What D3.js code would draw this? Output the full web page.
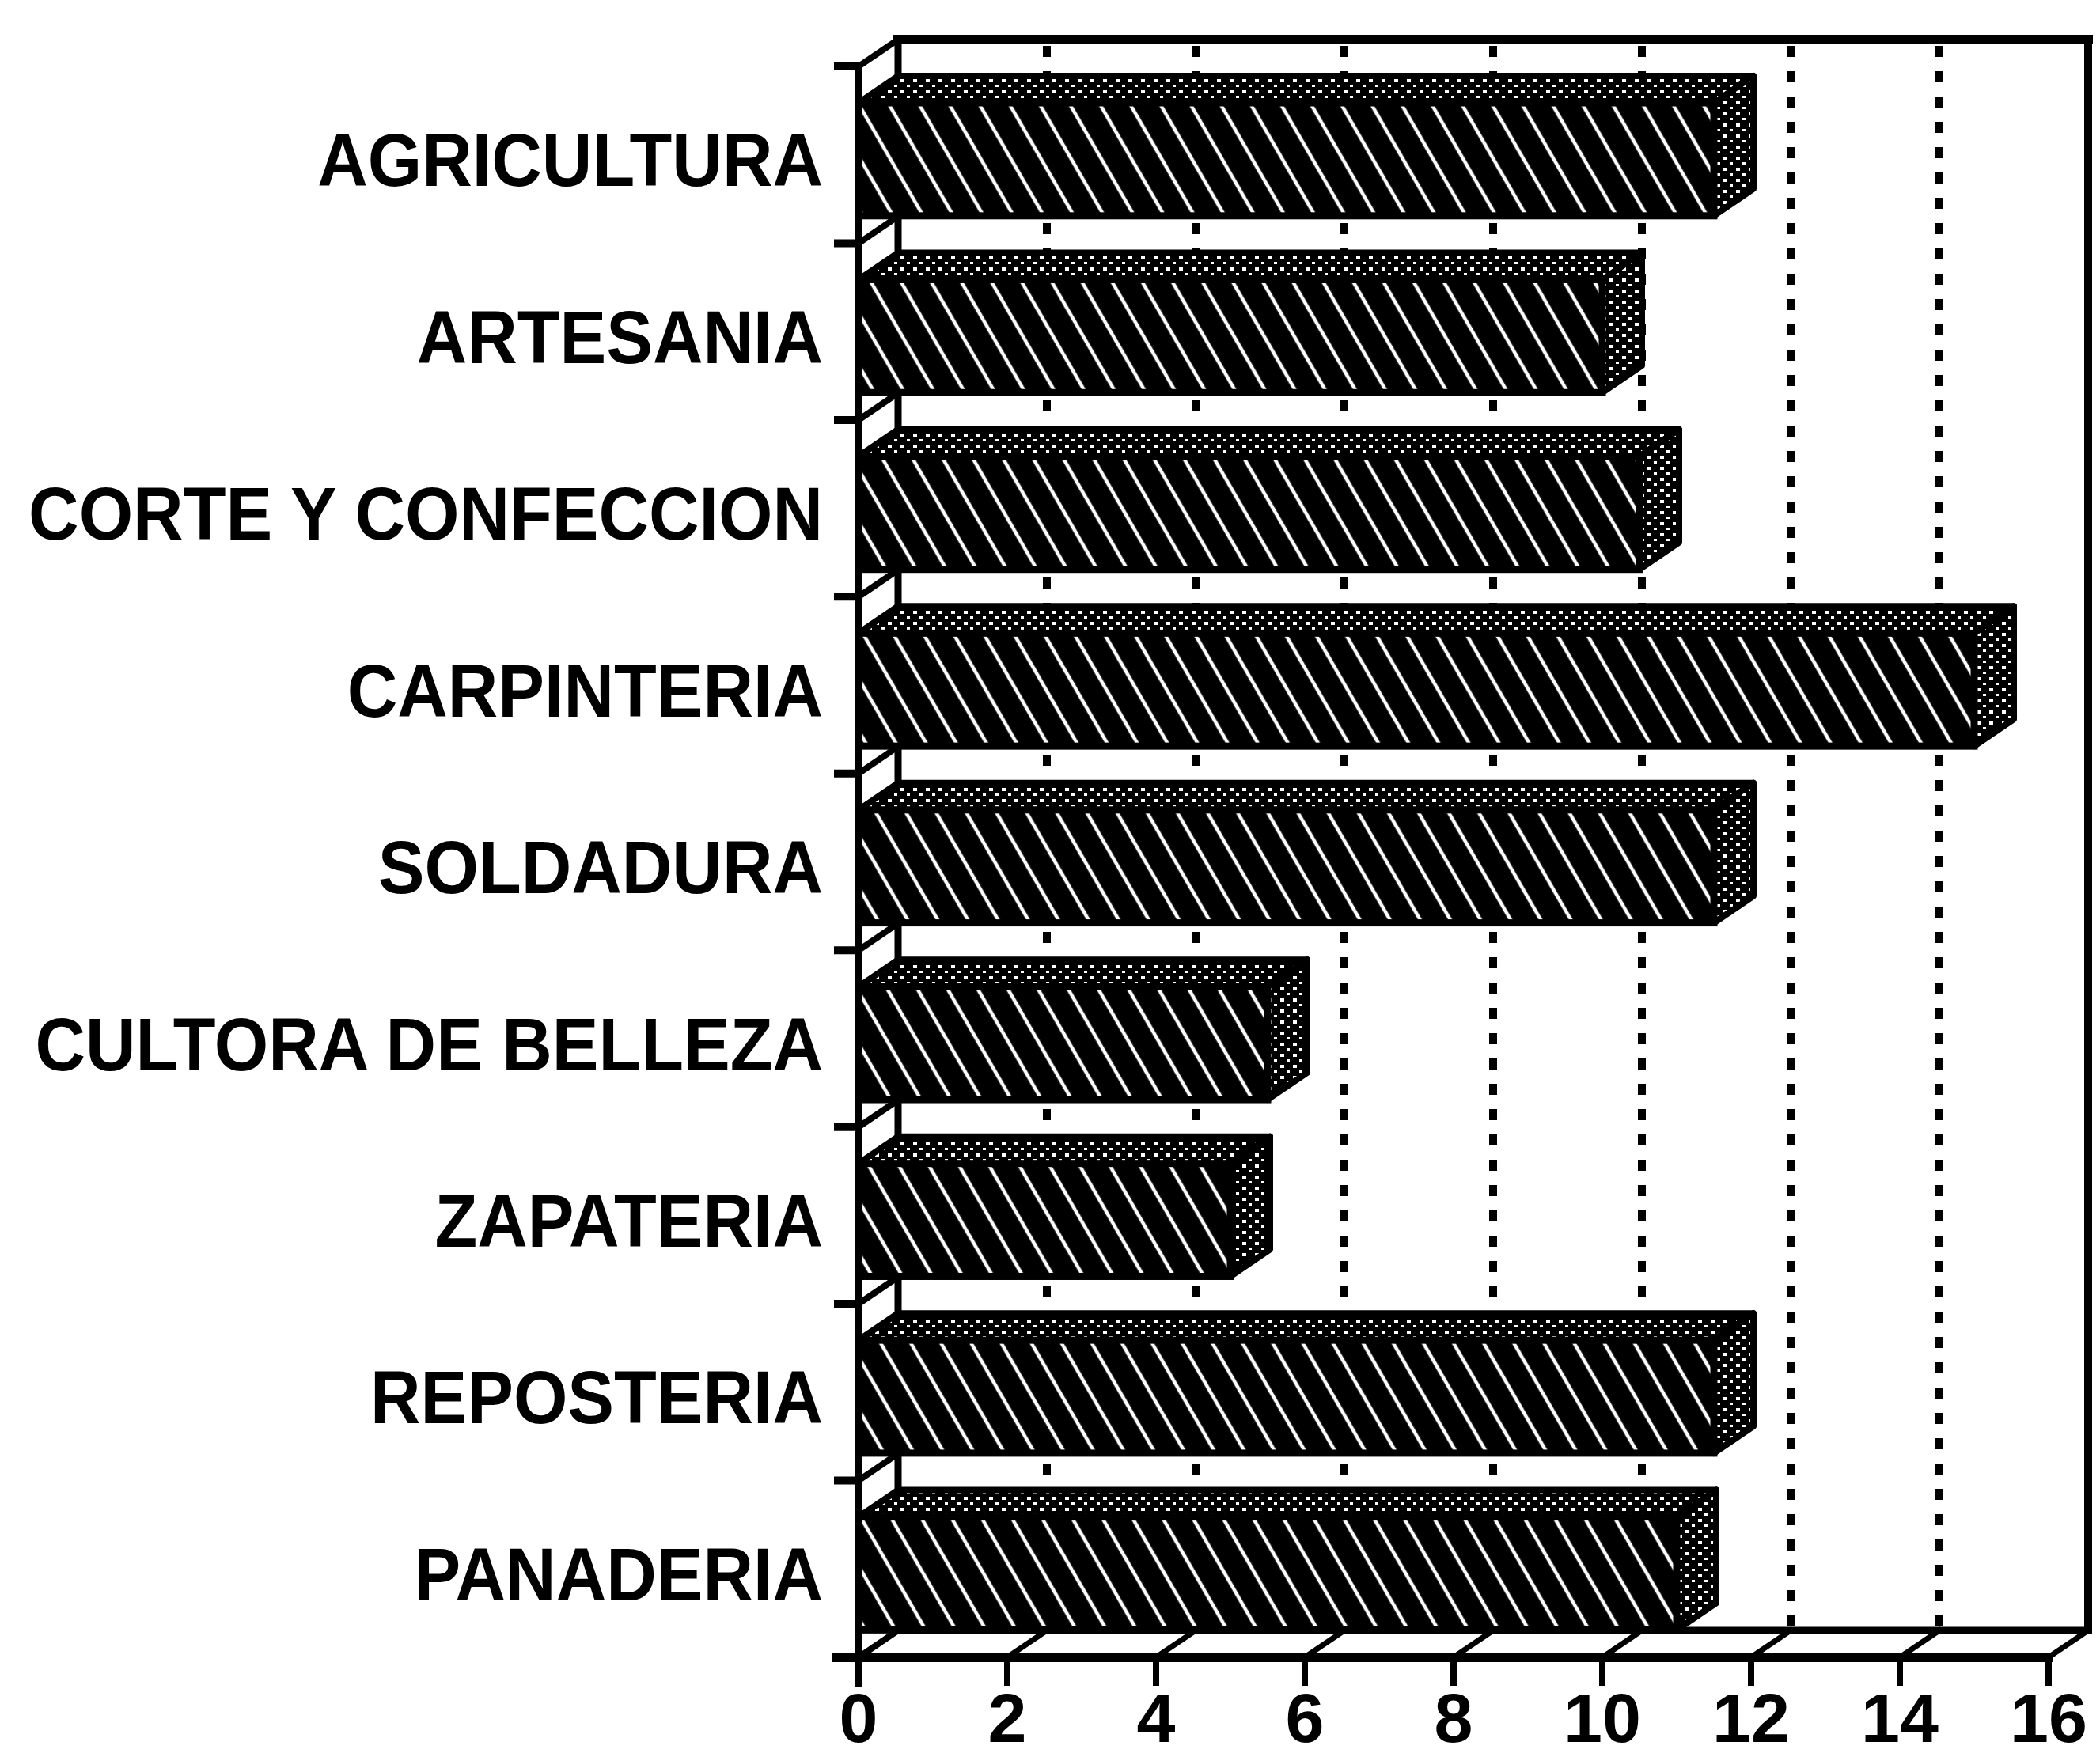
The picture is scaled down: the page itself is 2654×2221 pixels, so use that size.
<!DOCTYPE html>
<html>
<head>
<meta charset="utf-8">
<script src="https://cdn.jsdelivr.net/npm/d3@7"></script>
<style>
  body { margin: 0; background: #fff; }
  text { font-family: "Liberation Sans", Arial, sans-serif; font-weight: bold; fill: #000; }
</style>
</head>
<body>
<svg id="chart"></svg>
<script>
const categories = ['AGRICULTURA', 'ARTESANIA', 'CORTE Y CONFECCION', 'CARPINTERIA', 'SOLDADURA',
  'CULTORA DE BELLEZA', 'ZAPATERIA', 'REPOSTERIA', 'PANADERIA'];
const values = [11.5, 10, 10.5, 15, 11.5, 5.5, 5, 11.5, 11];
const xTicks = [0, 2, 4, 6, 8, 10, 12, 14, 16];

const width = 2654, height = 2221;
const dx = 50, dy = 34; // 3D depth offset

const svg = d3.select('#chart').attr('width', width).attr('height', height);

const x = d3.scaleLinear().domain([0, 16]).range([1085, 2589]);
const y = d3.scaleBand().domain(categories).range([84, 2095]);
const bw = y.bandwidth();

const yTop = y.range()[0], yBottom = y.range()[1];
const backTop = yTop - dy, backFloor = yBottom - dy;

// patterns
const defs = svg.append('defs');
const hatch = defs.append('pattern')
  .attr('id', 'hatch').attr('patternUnits', 'userSpaceOnUse')
  .attr('width', 33).attr('height', 40)
  .attr('patternTransform', 'rotate(-30)');
hatch.append('rect').attr('width', 33).attr('height', 40).attr('fill', '#000');
hatch.append('line').attr('x1', 16).attr('x2', 16).attr('y1', 0).attr('y2', 40)
  .attr('stroke', '#fff').attr('stroke-width', 4.5);

const dots = defs.append('pattern')
  .attr('id', 'dots').attr('patternUnits', 'userSpaceOnUse')
  .attr('width', 16).attr('height', 14);
dots.append('rect').attr('width', 16).attr('height', 14).attr('fill', '#000');
dots.append('rect').attr('x', 2).attr('y', 2).attr('width', 5).attr('height', 4).attr('fill', '#fff');
dots.append('rect').attr('x', 10).attr('y', 9).attr('width', 4).attr('height', 3).attr('fill', '#fff');

const line = (g, x1, y1, x2, y2, w) => g.append('line')
  .attr('x1', x1).attr('y1', y1).attr('x2', x2).attr('y2', y2)
  .attr('stroke', '#000').attr('stroke-width', w);

// back wall grid (dotted)
const grid = svg.append('g');
grid.selectAll('line')
  .data(xTicks.filter(d => d > 0 && d < 16))
  .enter().append('line')
  .attr('x1', d => x(d) + dx).attr('x2', d => x(d) + dx)
  .attr('y1', backTop + 8).attr('y2', backFloor)
  .attr('stroke', '#000').attr('stroke-width', 10)
  .attr('stroke-dasharray', '14 18');

// frame
const frame = svg.append('g').attr('stroke-linecap', 'square');
line(frame, x(0) + dx, backTop, x(16) + dx, backTop, 12);
line(frame, x(0) + dx, backTop, x(0) + dx, backFloor, 9);
line(frame, x(16) + dx, backTop, x(16) + dx, backFloor, 10);
line(frame, x(0) + dx, backFloor, x(16) + dx, backFloor, 9);

// floor diagonals
xTicks.forEach(v => line(frame, x(v), yBottom, x(v) + dx, backFloor, 7));

// left wall diagonals and ticks
const bounds = categories.map(c => y(c)).concat([yBottom]);
bounds.forEach(b => {
  line(frame, x(0), b, x(0) + dx, b - dy, 8);
  line(frame, x(0) - 26, b, x(0), b, 10);
});

// bars
const bars = svg.append('g').selectAll('g')
  .data(categories.map((c, i) => ({ name: c, value: values[i] })))
  .enter().append('g');

const yf = d => y(d.name) + bw * 0.206;
const yb = d => y(d.name) + bw * 0.845;

bars.append('polygon')
  .attr('points', d => [[x(0), yf(d)], [x(0) + dx, yf(d) - dy], [x(d.value) + dx, yf(d) - dy], [x(d.value), yf(d)]].join(' '))
  .attr('fill', 'url(#dots)').attr('stroke', '#000').attr('stroke-width', 8).attr('stroke-linejoin', 'round');

bars.append('polygon')
  .attr('points', d => [[x(d.value), yf(d)], [x(d.value) + dx, yf(d) - dy], [x(d.value) + dx, yb(d) - dy], [x(d.value), yb(d)]].join(' '))
  .attr('fill', 'url(#dots)').attr('stroke', '#000').attr('stroke-width', 8).attr('stroke-linejoin', 'round');

bars.append('rect')
  .attr('x', x(0)).attr('y', yf)
  .attr('width', d => x(d.value) - x(0))
  .attr('height', d => yb(d) - yf(d))
  .attr('fill', 'url(#hatch)').attr('stroke', '#000').attr('stroke-width', 9);

// front axes
line(frame, x(0), yTop, x(0), yBottom + 32, 10);
line(frame, x(0) - 28, yBottom, x(16), yBottom, 12);
xTicks.forEach(v => line(frame, x(v), yBottom, x(v), yBottom + 32, 8));

// category labels
svg.append('g').selectAll('text')
  .data(categories)
  .enter().append('text')
  .attr('transform', d => `translate(1040, ${y(d) + bw * 0.525 + 34}) scale(1, 1.07)`)
  .attr('text-anchor', 'end')
  .attr('font-size', 88)
  .text(d => d);

// tick labels
svg.append('g').selectAll('text')
  .data(xTicks)
  .enter().append('text')
  .attr('x', d => x(d))
  .attr('y', 2202)
  .attr('text-anchor', 'middle')
  .attr('font-size', 88)
  .text(d => d);
</script>
</body>
</html>
